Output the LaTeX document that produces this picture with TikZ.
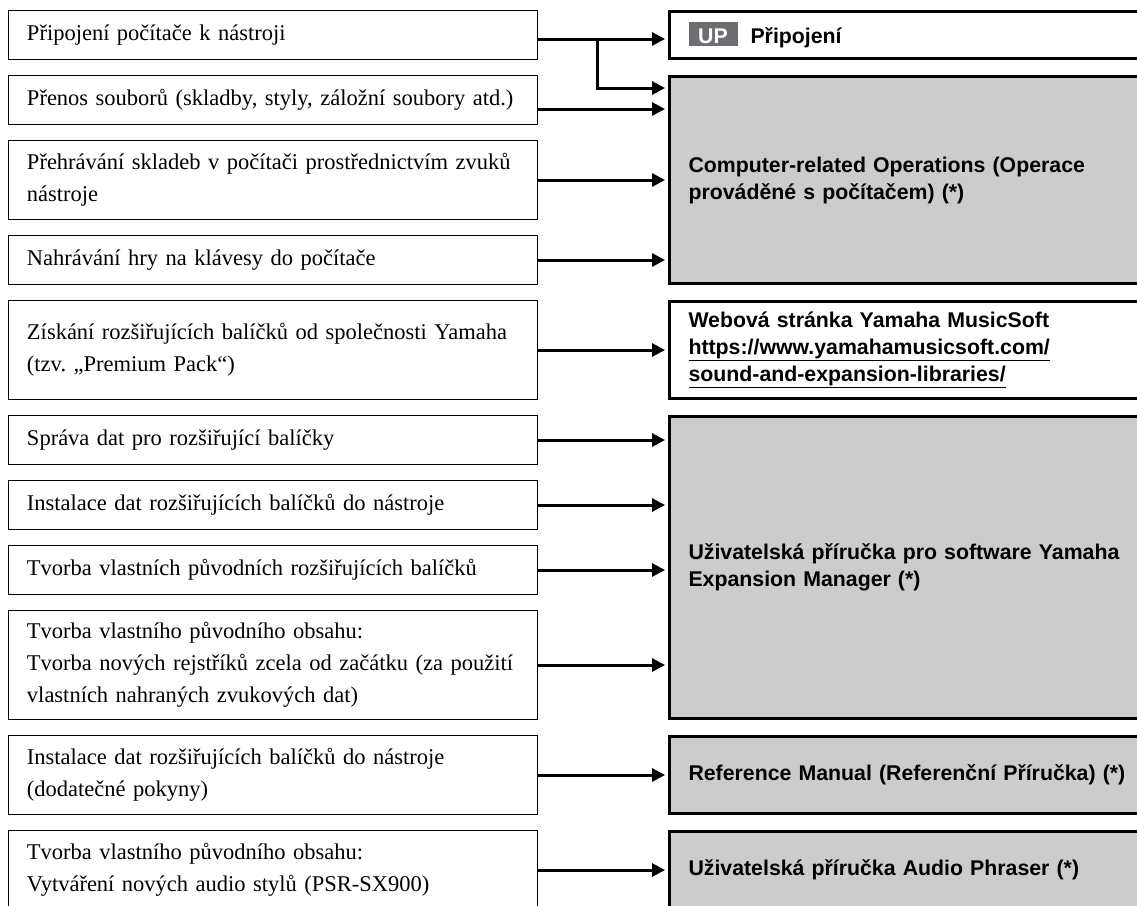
\documentclass[tikz,border=0pt]{standalone}
\usepackage{fontspec}
\setmainfont{Liberation Serif}
\setsansfont{Liberation Sans}
\usepackage{tikz}
\usetikzlibrary{arrows.meta,positioning}
\definecolor{boxgray}{HTML}{CCCCCC}
\definecolor{upgray}{HTML}{6D6E71}
\newcommand{\upbadge}{{\setlength{\fboxsep}{0pt}\colorbox{upgray}{\makebox[49pt]{\rule[-3pt]{0pt}{24pt}\textcolor{white}{UP}}}}\hspace{13pt}}
\frenchspacing

\begin{document}
\begin{tikzpicture}[x=1pt,y=-1pt]
\tikzstyle{every node}=[]
\tikzstyle{lbox}=[draw,line width=1pt,text width=491pt,inner xsep=19pt,inner ysep=0pt,align=left,
  font=\rmfamily\fontsize{22.5}{32}\selectfont]
\tikzstyle{rbox}=[draw,line width=3pt,anchor=north west,text width=460pt,inner xsep=19pt,inner ysep=0pt,align=left,
  font=\sffamily\bfseries\fontsize{21.3}{27}\selectfont]
\tikzstyle{arr}=[-{Triangle[length=13pt,width=13pt]},line width=3pt,shorten >=3pt]
\useasboundingbox (0,0) rectangle (1137,905);
\clip (0,0) rectangle (1137,905);
 \node[lbox,anchor=north,minimum height=49pt] (l1) at (272.5,10) {Připojení počítače k nástroji};
 \node[lbox,minimum height=49pt,below=15pt of l1] (l2) {Přenos souborů (skladby, styly, záložní soubory atd.)};
 \node[lbox,minimum height=79pt,below=15pt of l2] (l3) {Přehrávání skladeb v počítači prostřednictvím zvuků\\nástroje};
 \node[lbox,minimum height=49pt,below=15pt of l3] (l4) {Nahrávání hry na klávesy do počítače};
 \node[lbox,minimum height=99pt,below=15pt of l4] (l5) {Získání rozšiřujících balíčků od společnosti Yamaha\\(tzv. „Premium Pack“)};
 \node[lbox,minimum height=49pt,below=15pt of l5] (l6) {Správa dat pro rozšiřující balíčky};
 \node[lbox,minimum height=49pt,below=15pt of l6] (l7) {Instalace dat rozšiřujících balíčků do nástroje};
 \node[lbox,minimum height=49pt,below=15pt of l7] (l8) {Tvorba vlastních původních rozšiřujících balíčků};
 \node[lbox,minimum height=109pt,below=15pt of l8] (l9) {Tvorba vlastního původního obsahu:\\Tvorba nových rejstříků zcela od začátku (za použití\\vlastních nahraných zvukových dat)};
 \node[lbox,minimum height=79pt,below=15pt of l9] (l10) {Instalace dat rozšiřujících balíčků do nástroje\\(dodatečné pokyny)};
 \node[lbox,minimum height=79pt,below=15pt of l10] (l11) {Tvorba vlastního původního obsahu:\\Vytváření nových audio stylů (PSR-SX900)};

 \node[rbox,minimum height=47pt] (r1) at (668,10) {\upbadge Připojení};
 \node[rbox,fill=boxgray,minimum height=207pt] (r2) at (668,75) {Computer-related Operations (Operace\\prováděné s počítačem) (*)};
 \node[rbox,minimum height=97pt] (r3) at (668,300) {Webová stránka Yamaha MusicSoft\\\underline{https://www.yamahamusicsoft.com/}\\\underline{sound-and-expansion-libraries/}};
 \node[rbox,fill=boxgray,minimum height=302pt] (r4) at (668,415) {Uživatelská příručka pro software Yamaha\\Expansion Manager (*)};
 \node[rbox,fill=boxgray,minimum height=77pt] (r5) at (668,735) {Reference Manual (Referenční Příručka) (*)};
 \node[rbox,fill=boxgray,minimum height=77pt] (r6) at (668,830) {Uživatelská příručka Audio Phraser (*)};

 \draw[arr] ([yshift=-4pt]l1.east) -- ([yshift=-4pt]l1.east -| r1.west);
 \draw[arr] ([xshift=60pt,yshift=-4pt]l1.east) |- ([yshift=-13pt]r2.north west);
 \draw[arr] ([yshift=-9pt]l2.east) -- ([yshift=-9pt]l2.east -| r2.west);
 \draw[arr] (l3.east) -- (l3.east -| r2.west);
 \draw[arr] (l4.east) -- (l4.east -| r2.west);
 \draw[arr] (l5.east) -- (l5.east -| r3.west);
 \draw[arr] (l6.east) -- (l6.east -| r4.west);
 \draw[arr] (l7.east) -- (l7.east -| r4.west);
 \draw[arr] (l8.east) -- (l8.east -| r4.west);
 \draw[arr] (l9.east) -- (l9.east -| r4.west);
 \draw[arr] (l10.east) -- (l10.east -| r5.west);
 \draw[arr] (l11.east) -- (l11.east -| r6.west);
\end{tikzpicture}
\end{document}
